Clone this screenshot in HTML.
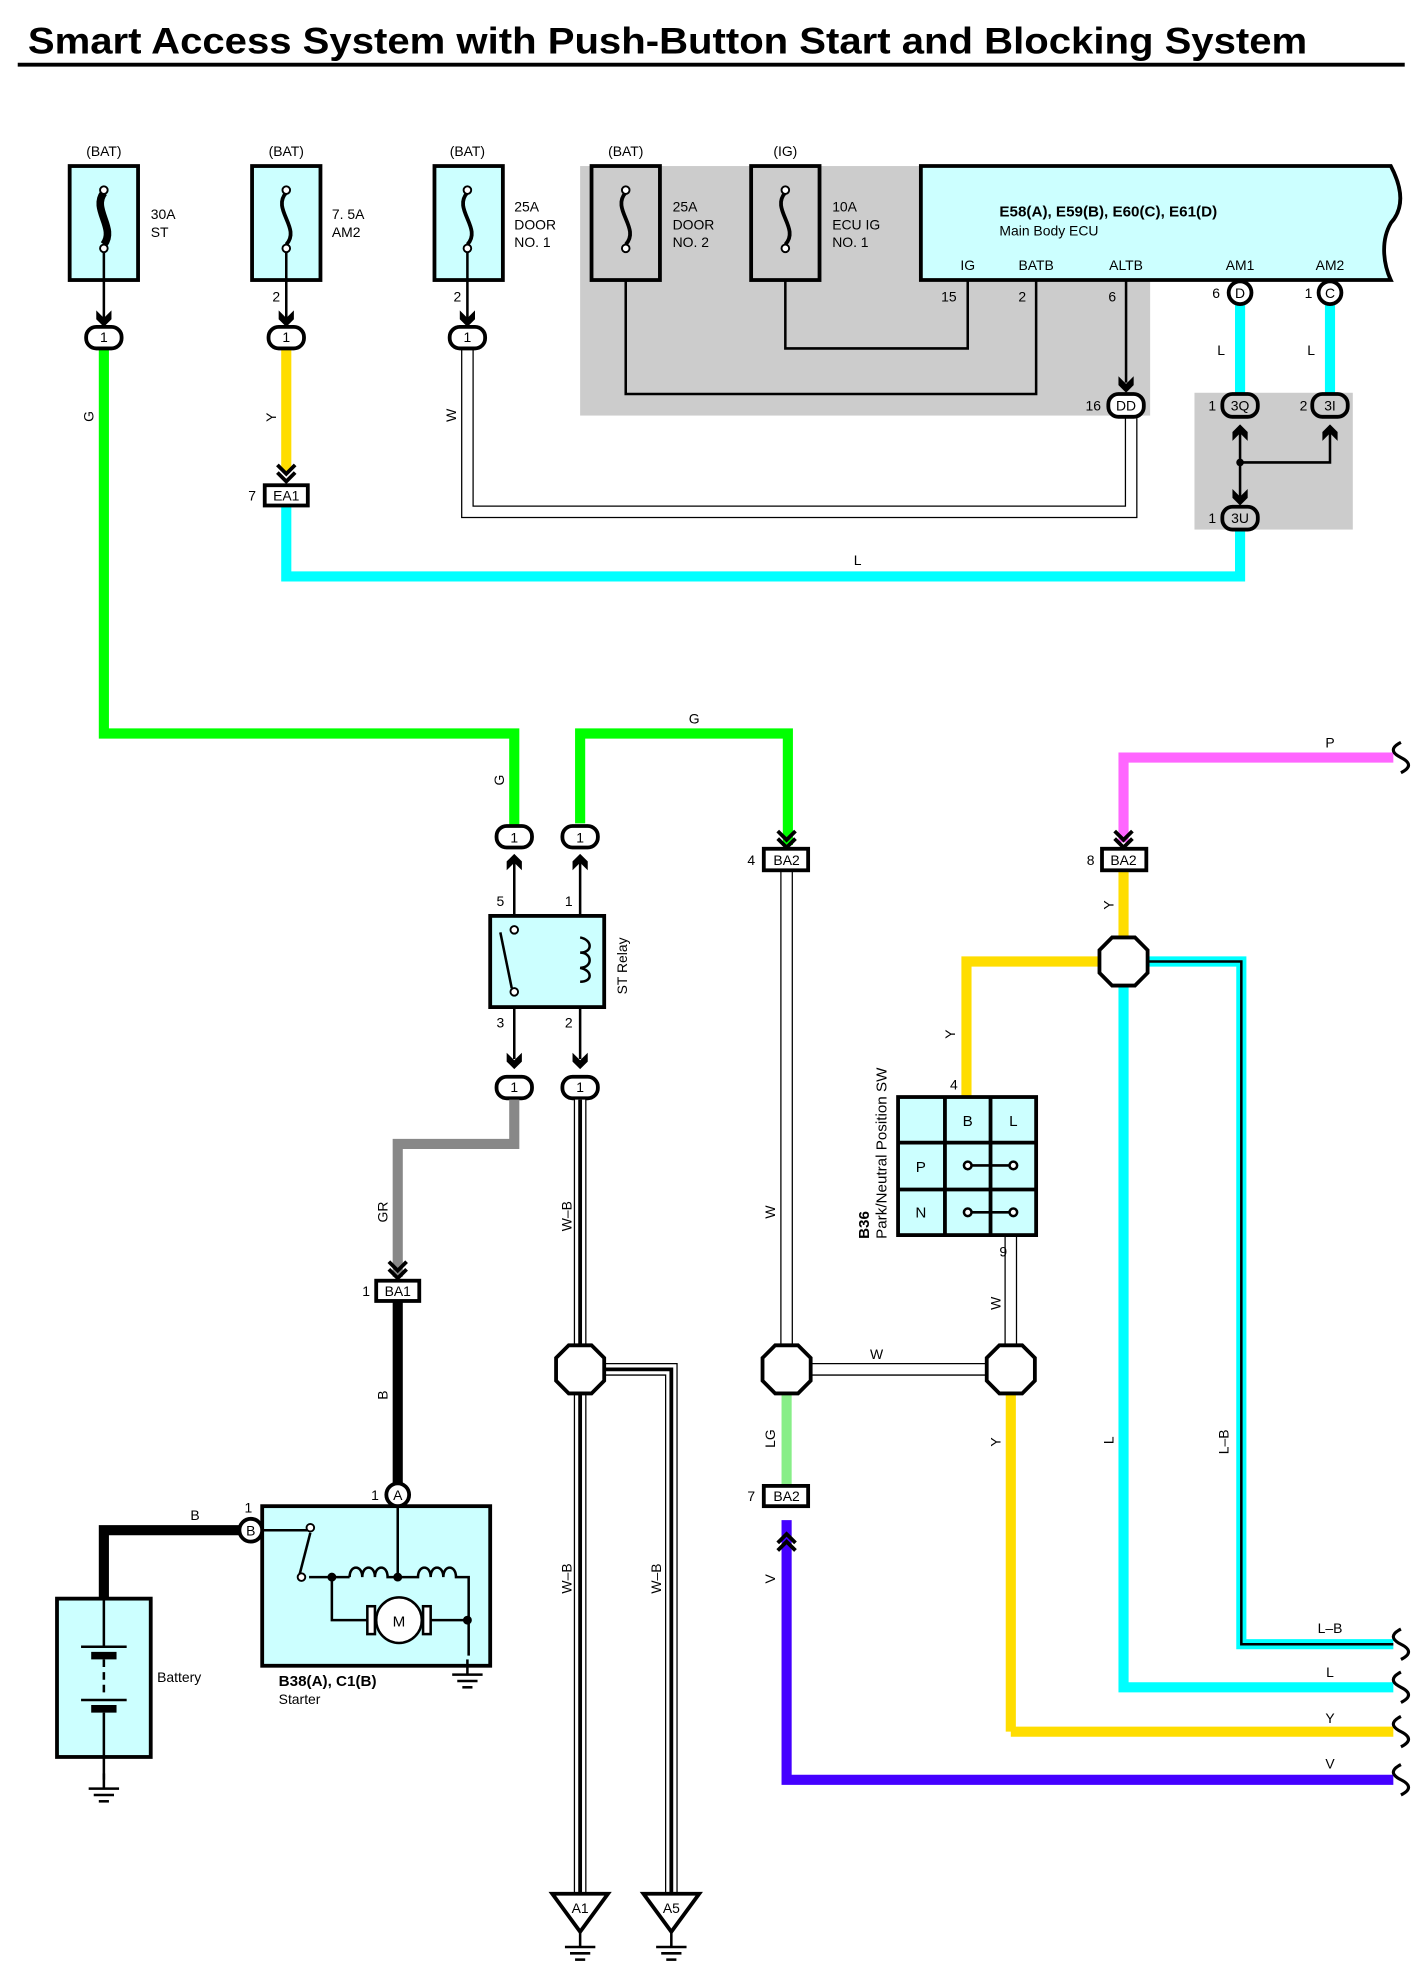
<!DOCTYPE html>
<html><head><meta charset="utf-8"><style>html,body{margin:0;padding:0;background:#fff}svg{display:block}text{font-family:"Liberation Sans",Arial,sans-serif}</style></head>
<body>
<svg width="1425" height="1980" viewBox="0 0 1125 1563" xmlns="http://www.w3.org/2000/svg">
<defs>
<g id="ad"><polygon points="-6,-12 0,-6 6,-12 6,-5 0,1 -6,-5" fill="#000"/></g>
<g id="dd"><polyline points="-7,-14 0,-7 7,-14" fill="none" stroke="#000" stroke-width="3"/><polyline points="-7,-8 0,-1 7,-8" fill="none" stroke="#000" stroke-width="3"/></g>
<g id="gnd"><line x1="0" y1="0" x2="0" y2="12" stroke="#000" stroke-width="2"/><line x1="-12" y1="12" x2="12" y2="12" stroke="#000" stroke-width="2"/><line x1="-8" y1="17" x2="8" y2="17" stroke="#000" stroke-width="2"/><line x1="-4" y1="22" x2="4" y2="22" stroke="#000" stroke-width="2"/></g>
<g id="oct"><polygon points="-9,-19 9,-19 19,-9 19,9 9,19 -9,19 -19,9 -19,-9" fill="#fff" stroke="#000" stroke-width="3"/></g>
</defs>
<rect width="1125" height="1563" fill="#fff"/>
<text x="22" y="42" font-size="29" font-weight="bold" textLength="1010" lengthAdjust="spacingAndGlyphs">Smart Access System with Push-Button Start and Blocking System</text>
<line x1="14" y1="51" x2="1109" y2="51" stroke="#000" stroke-width="3"/>

<rect x="458" y="131" width="450" height="197" fill="#ccc"/>
<rect x="943" y="310" width="125" height="108" fill="#ccc"/>

<g font-size="11" text-anchor="middle">
<text x="82" y="123">(BAT)</text><text x="226" y="123">(BAT)</text><text x="369" y="123">(BAT)</text><text x="494" y="123">(BAT)</text><text x="620" y="123">(IG)</text>
</g>
<g font-size="11">
<text x="119" y="173">30A</text><text x="119" y="187">ST</text>
<text x="262" y="173">7. 5A</text><text x="262" y="187">AM2</text>
<text x="406" y="167">25A</text><text x="406" y="181">DOOR</text><text x="406" y="195">NO. 1</text>
<text x="531" y="167">25A</text><text x="531" y="181">DOOR</text><text x="531" y="195">NO. 2</text>
<text x="657" y="167">10A</text><text x="657" y="181">ECU IG</text><text x="657" y="195">NO. 1</text>
</g>
<g stroke="#000" stroke-width="3">
<rect x="55" y="131" width="54" height="90" fill="#ccffff"/>
<rect x="199" y="131" width="54" height="90" fill="#ccffff"/>
<rect x="343" y="131" width="54" height="90" fill="#ccffff"/>
<rect x="467" y="131" width="54" height="90" fill="#ccc"/>
<rect x="593" y="131" width="54" height="90" fill="#ccc"/>
</g>
<g fill="none" stroke="#000" stroke-width="3">
<path d="M82,152 C72,165 92,180 82,193" stroke-width="6"/>
<path d="M226,152 C214,165 238,180 226,193"/>
<path d="M369,152 C357,165 381,180 369,193"/>
<path d="M494,152 C482,165 506,180 494,193"/>
<path d="M620,152 C608,165 632,180 620,193"/>
</g>
<g fill="#fff" stroke="#000" stroke-width="1.5">
<circle cx="82" cy="150" r="3"/><circle cx="82" cy="196" r="3"/>
<circle cx="226" cy="150" r="3"/><circle cx="226" cy="196" r="3"/>
<circle cx="369" cy="150" r="3"/><circle cx="369" cy="196" r="3"/>
<circle cx="494" cy="150" r="3"/><circle cx="494" cy="196" r="3"/>
<circle cx="620" cy="150" r="3"/><circle cx="620" cy="196" r="3"/>
</g>
<g stroke="#000" stroke-width="2">
<line x1="82" y1="199" x2="82" y2="252"/><line x1="226" y1="199" x2="226" y2="252"/><line x1="369" y1="199" x2="369" y2="252"/>
</g>
<use href="#ad" x="82" y="257"/><use href="#ad" x="226" y="257"/><use href="#ad" x="369" y="257"/>
<g font-size="11"><text x="215" y="238">2</text><text x="358" y="238">2</text></g>

<g fill="none" stroke="#000" stroke-width="2">
<polyline points="620,221 620,275 764,275 764,221"/>
<polyline points="494,221 494,311 818,311 818,221"/>
<line x1="889" y1="221" x2="889" y2="302"/>
</g>
<use href="#ad" x="889" y="309"/>
<g font-size="11"><text x="743" y="238">15</text><text x="804" y="238">2</text><text x="875" y="238">6</text></g>

<path d="M727,131 L1098,131 C1108,150 1108,165 1098,176 C1090,190 1092,208 1098,221 L727,221 Z" fill="#ccffff" stroke="#000" stroke-width="3"/>
<text x="789" y="171" font-size="12" font-weight="bold">E58(A), E59(B), E60(C), E61(D)</text>
<text x="789" y="186" font-size="11">Main Body ECU</text>
<g font-size="11" text-anchor="middle"><text x="764" y="213">IG</text><text x="818" y="213">BATB</text><text x="889" y="213">ALTB</text><text x="979" y="213">AM1</text><text x="1050" y="213">AM2</text></g>

<polyline points="369,275 369,404 893,404 893,330" fill="none" stroke="#000" stroke-width="10"/>
<polyline points="369,275 369,404 893,404 893,330" fill="none" stroke="#fff" stroke-width="8"/>
<text x="360" y="333" font-size="11" transform="rotate(-90 360 333)">W</text>

<polyline points="82,275 82,579 406,579 406,652" fill="none" stroke="#00ff00" stroke-width="8"/>
<text x="74" y="333" font-size="11" transform="rotate(-90 74 333)">G</text>
<text x="398" y="620" font-size="11" transform="rotate(-90 398 620)">G</text>
<line x1="226" y1="275" x2="226" y2="372" stroke="#ffdd00" stroke-width="8"/>
<text x="218" y="333" font-size="11" transform="rotate(-90 218 333)">Y</text>
<use href="#dd" x="226" y="381"/>
<polyline points="226,400 226,455 979,455 979,418" fill="none" stroke="#00ffff" stroke-width="8"/>
<text x="674" y="446" font-size="11">L</text>
<rect x="209" y="383" width="34" height="16" fill="#fff" stroke="#000" stroke-width="3"/>
<text x="226" y="395" font-size="11" text-anchor="middle">EA1</text>
<text x="196" y="395" font-size="11">7</text>

<line x1="979" y1="240" x2="979" y2="312" stroke="#00ffff" stroke-width="8"/>
<line x1="1050" y1="240" x2="1050" y2="312" stroke="#00ffff" stroke-width="8"/>
<g font-size="11"><text x="961" y="280">L</text><text x="1032" y="280">L</text></g>
<g stroke="#000" stroke-width="2" fill="none"><line x1="979" y1="340" x2="979" y2="392"/><polyline points="979,365 1050,365 1050,340"/></g>
<circle cx="979" cy="365" r="3"/>
<use href="#ad" x="979" y="336" transform="rotate(180 979 336)"/>
<use href="#ad" x="1050" y="336" transform="rotate(180 1050 336)"/>
<use href="#ad" x="979" y="398"/>

<g fill="#fff" stroke="#000" stroke-width="3">
<rect x="68" y="258" width="28" height="17" rx="8"/>
<rect x="212" y="258" width="28" height="17" rx="8"/>
<rect x="355" y="258" width="28" height="17" rx="8"/>
<circle cx="979" cy="231" r="9"/>
<circle cx="1050" cy="231" r="9"/>
<rect x="875" y="311" width="28" height="18" rx="8"/>
<rect x="965" y="311" width="28" height="18" rx="8" fill="#ccc"/>
<rect x="1036" y="311" width="28" height="18" rx="8" fill="#ccc"/>
<rect x="965" y="400" width="28" height="18" rx="8" fill="#ccc"/>
<rect x="392" y="652" width="28" height="17" rx="8"/>
<rect x="444" y="652" width="28" height="17" rx="8"/>
<rect x="392" y="850" width="28" height="17" rx="8"/>
<rect x="444" y="850" width="28" height="17" rx="8"/>
</g>
<g font-size="11" text-anchor="middle">
<text x="82" y="270">1</text><text x="226" y="270">1</text><text x="369" y="270">1</text>
<text x="979" y="235">D</text><text x="1050" y="235">C</text>
<text x="889" y="324">DD</text><text x="979" y="324">3Q</text><text x="1050" y="324">3I</text><text x="979" y="413">3U</text>
<text x="406" y="665">1</text><text x="458" y="665">1</text><text x="406" y="862">1</text><text x="458" y="862">1</text>
</g>
<g font-size="11"><text x="957" y="235">6</text><text x="1030" y="235">1</text><text x="857" y="324">16</text><text x="954" y="324">1</text><text x="1026" y="324">2</text><text x="954" y="413">1</text></g>

<polyline points="458,650 458,579 622,579 622,667" fill="none" stroke="#00ff00" stroke-width="8"/>
<text x="548" y="571" font-size="11" text-anchor="middle">G</text>
<use href="#dd" x="621" y="670"/>
<g stroke="#000" stroke-width="2"><line x1="406" y1="680" x2="406" y2="734"/><line x1="458" y1="680" x2="458" y2="740"/><line x1="406" y1="780" x2="406" y2="836"/><line x1="458" y1="775" x2="458" y2="836"/></g>
<use href="#ad" x="406" y="675" transform="rotate(180 406 675)"/>
<use href="#ad" x="458" y="675" transform="rotate(180 458 675)"/>
<use href="#ad" x="406" y="843"/><use href="#ad" x="458" y="843"/>
<rect x="387" y="723" width="90" height="72" fill="#ccffff" stroke="#000" stroke-width="3"/>
<line x1="395" y1="736" x2="404" y2="780" stroke="#000" stroke-width="2"/>
<circle cx="406" cy="734" r="3" fill="#fff" stroke="#000" stroke-width="1.5"/><circle cx="406" cy="783" r="3" fill="#fff" stroke="#000" stroke-width="1.5"/>
<path d="M458,740 C468,742 468,752 458,752 C468,752 468,764 458,764 C468,766 468,775 458,775" fill="none" stroke="#000" stroke-width="2"/>
<text x="495" y="785" font-size="11" transform="rotate(-90 495 785)">ST Relay</text>
<g font-size="11"><text x="392" y="715">5</text><text x="446" y="715">1</text><text x="392" y="811">3</text><text x="446" y="811">2</text></g>

<polyline points="406,868 406,903 314,903 314,1008" fill="none" stroke="#888" stroke-width="8"/>
<text x="306" y="965" font-size="11" transform="rotate(-90 306 965)">GR</text>
<use href="#dd" x="314" y="1010"/>
<line x1="314" y1="1028" x2="314" y2="1172" stroke="#000" stroke-width="8"/>
<text x="306" y="1105" font-size="11" transform="rotate(-90 306 1105)">B</text>
<rect x="297" y="1011" width="34" height="16" fill="#fff" stroke="#000" stroke-width="3"/>
<text x="314" y="1023" font-size="11" text-anchor="middle">BA1</text>
<text x="286" y="1023" font-size="11">1</text>

<polyline points="198,1208 82,1208 82,1262" fill="none" stroke="#000" stroke-width="8"/>
<text x="154" y="1200" font-size="11" text-anchor="middle">B</text>
<rect x="207" y="1189" width="180" height="126" fill="#ccffff" stroke="#000" stroke-width="3"/>
<g fill="none" stroke="#000" stroke-width="2">
<polyline points="206,1208 245,1208"/>
<line x1="245" y1="1210" x2="236" y2="1245"/>
<line x1="314" y1="1190" x2="314" y2="1243"/>
<line x1="244" y1="1245" x2="276" y2="1245"/>
<path d="M276,1245 c0,-10 10,-10 10,0 c0,-10 10,-10 10,0 c0,-10 10,-10 10,0 l24,0 c0,-10 10,-10 10,0 c0,-10 10,-10 10,0 c0,-10 10,-10 10,0 l10,0 l0,62"/>
<polyline points="262,1245 262,1279 290,1279"/>
<line x1="340" y1="1279" x2="369" y2="1279"/>
</g>
<circle cx="245" cy="1206" r="3" fill="#fff" stroke="#000" stroke-width="1.5"/>
<circle cx="238" cy="1245" r="3" fill="#fff" stroke="#000" stroke-width="1.5"/>
<circle cx="262" cy="1245" r="3.5"/><circle cx="314" cy="1245" r="3.5"/><circle cx="369" cy="1279" r="3.5"/>
<rect x="290" y="1268" width="6" height="22" fill="#fff" stroke="#000" stroke-width="2"/>
<rect x="334" y="1268" width="6" height="22" fill="#fff" stroke="#000" stroke-width="2"/>
<circle cx="315" cy="1279" r="18" fill="#fff" stroke="#000" stroke-width="2"/>
<text x="315" y="1284" font-size="12" text-anchor="middle">M</text>
<use href="#gnd" x="369" y="1310"/>
<circle cx="314" cy="1180" r="9" fill="#fff" stroke="#000" stroke-width="3"/>
<text x="314" y="1184" font-size="11" text-anchor="middle">A</text>
<text x="293" y="1184" font-size="11">1</text>
<circle cx="198" cy="1208" r="9" fill="#fff" stroke="#000" stroke-width="3"/>
<text x="198" y="1212" font-size="11" text-anchor="middle">B</text>
<text x="193" y="1194" font-size="11">1</text>
<text x="220" y="1331" font-size="12" font-weight="bold">B38(A), C1(B)</text>
<text x="220" y="1345" font-size="11">Starter</text>

<rect x="45" y="1262" width="74" height="125" fill="#ccffff" stroke="#000" stroke-width="3"/>
<g stroke="#000"><line x1="82" y1="1262" x2="82" y2="1300" stroke-width="2"/><line x1="64" y1="1300" x2="100" y2="1300" stroke-width="2"/><line x1="72" y1="1307" x2="92" y2="1307" stroke-width="6"/><line x1="82" y1="1310" x2="82" y2="1340" stroke-width="2" stroke-dasharray="6,4"/><line x1="64" y1="1342" x2="100" y2="1342" stroke-width="2"/><line x1="72" y1="1349" x2="92" y2="1349" stroke-width="6"/><line x1="82" y1="1352" x2="82" y2="1405" stroke-width="2"/></g>
<use href="#gnd" x="82" y="1400"/>
<text x="124" y="1328" font-size="11">Battery</text>

<g fill="none">
<polyline points="458,868 458,1495" stroke="#000" stroke-width="10"/>
<polyline points="458,868 458,1495" stroke="#fff" stroke-width="8"/>
<polyline points="458,868 458,1495" stroke="#000" stroke-width="3"/>
<polyline points="470,1081 530,1081 530,1495" stroke="#000" stroke-width="10"/>
<polyline points="470,1081 530,1081 530,1495" stroke="#fff" stroke-width="8"/>
<polyline points="470,1081 530,1081 530,1495" stroke="#000" stroke-width="3"/>
</g>
<text x="451" y="972" font-size="11" transform="rotate(-90 451 972)">W–B</text>
<text x="451" y="1258" font-size="11" transform="rotate(-90 451 1258)">W–B</text>
<text x="522" y="1258" font-size="11" transform="rotate(-90 522 1258)">W–B</text>
<use href="#oct" x="458" y="1081"/>
<polygon points="436,1495 480,1495 458,1525" fill="#fff" stroke="#000" stroke-width="3"/>
<polygon points="508,1495 552,1495 530,1525" fill="#fff" stroke="#000" stroke-width="3"/>
<text x="458" y="1510" font-size="11" text-anchor="middle">A1</text>
<text x="530" y="1510" font-size="11" text-anchor="middle">A5</text>
<use href="#gnd" x="458" y="1525"/><use href="#gnd" x="530" y="1525"/>

<g fill="none">
<polyline points="621,688 621,1081 798,1081 798,975" stroke="#000" stroke-width="10"/>
<polyline points="621,688 621,1081 798,1081 798,975" stroke="#fff" stroke-width="8"/>
</g>
<text x="612" y="962" font-size="11" transform="rotate(-90 612 962)">W</text>
<text x="692" y="1073" font-size="11" text-anchor="middle">W</text>
<text x="790" y="1034" font-size="11" transform="rotate(-90 790 1034)">W</text>
<text x="789" y="992" font-size="11">9</text>
<rect x="603" y="670" width="35" height="17" fill="#fff" stroke="#000" stroke-width="3"/>
<text x="621" y="683" font-size="11" text-anchor="middle">BA2</text>
<text x="590" y="683" font-size="11">4</text>

<line x1="621" y1="1100" x2="621" y2="1172" stroke="#88ee88" stroke-width="8"/>
<text x="612" y="1143" font-size="11" transform="rotate(-90 612 1143)">LG</text>
<polyline points="621,1200 621,1405 1100,1405" fill="none" stroke="#4400ff" stroke-width="8"/>
<text x="612" y="1250" font-size="11" transform="rotate(-90 612 1250)">V</text>
<text x="1050" y="1396" font-size="11" text-anchor="middle">V</text>
<rect x="603" y="1173" width="35" height="16" fill="#fff" stroke="#000" stroke-width="3"/>
<text x="621" y="1185" font-size="11" text-anchor="middle">BA2</text>
<text x="590" y="1185" font-size="11">7</text>
<use href="#dd" x="621" y="1190" transform="rotate(180 621 1200)"/>

<polyline points="1100,598 887,598 887,665" fill="none" stroke="#ff66ff" stroke-width="8"/>
<text x="1050" y="590" font-size="11" text-anchor="middle">P</text>
<use href="#dd" x="887" y="670"/>
<line x1="887" y1="688" x2="887" y2="742" stroke="#ffdd00" stroke-width="8"/>
<text x="879" y="718" font-size="11" transform="rotate(-90 879 718)">Y</text>
<rect x="870" y="670" width="35" height="17" fill="#fff" stroke="#000" stroke-width="3"/>
<text x="887" y="683" font-size="11" text-anchor="middle">BA2</text>
<text x="858" y="683" font-size="11">8</text>
<polyline points="870,759 763,759 763,866" fill="none" stroke="#ffdd00" stroke-width="8"/>
<text x="754" y="820" font-size="11" transform="rotate(-90 754 820)">Y</text>
<text x="750" y="860" font-size="11">4</text>
<polyline points="887,778 887,1332 1100,1332" fill="none" stroke="#00ffff" stroke-width="8"/>
<text x="879" y="1140" font-size="11" transform="rotate(-90 879 1140)">L</text>
<text x="1050" y="1324" font-size="11" text-anchor="middle">L</text>
<polyline points="905,759 980,759 980,1298 1100,1298" fill="none" stroke="#00ffff" stroke-width="8"/>
<polyline points="905,759 980,759 980,1298 1100,1298" fill="none" stroke="#000" stroke-width="2"/>
<text x="970" y="1148" font-size="11" transform="rotate(-90 970 1148)">L–B</text>
<text x="1050" y="1289" font-size="11" text-anchor="middle">L–B</text>
<line x1="798" y1="1100" x2="798" y2="1367" stroke="#ffdd00" stroke-width="8"/>
<polyline points="798,1367 1100,1367" fill="none" stroke="#ffdd00" stroke-width="8"/>
<text x="790" y="1142" font-size="11" transform="rotate(-90 790 1142)">Y</text>
<text x="1050" y="1360" font-size="11" text-anchor="middle">Y</text>
<g fill="none" stroke="#000" stroke-width="2.5">
<path d="M1106,1286 c-8,4 -8,8 0,12 c8,4 8,8 0,12"/>
<path d="M1106,1320 c-8,4 -8,8 0,12 c8,4 8,8 0,12"/>
<path d="M1106,1355 c-8,4 -8,8 0,12 c8,4 8,8 0,12"/>
<path d="M1106,1393 c-8,4 -8,8 0,12 c8,4 8,8 0,12"/>
<path d="M1106,586 c-8,4 -8,8 0,12 c8,4 8,8 0,12"/>
</g>
<use href="#oct" x="887" y="759"/>
<use href="#oct" x="621" y="1081"/>
<use href="#oct" x="798" y="1081"/>

<g stroke="#000" stroke-width="3" fill="#ccffff">
<rect x="709" y="866" width="109" height="109"/>
<line x1="746" y1="866" x2="746" y2="975"/><line x1="782" y1="866" x2="782" y2="975"/>
<line x1="709" y1="902" x2="818" y2="902"/><line x1="709" y1="939" x2="818" y2="939"/>
</g>
<g stroke="#000" stroke-width="2"><line x1="764" y1="920" x2="800" y2="920"/><line x1="764" y1="957" x2="800" y2="957"/></g>
<g fill="#fff" stroke="#000" stroke-width="2"><circle cx="764" cy="920" r="3"/><circle cx="800" cy="920" r="3"/><circle cx="764" cy="957" r="3"/><circle cx="800" cy="957" r="3"/></g>
<g font-size="12" text-anchor="middle"><text x="764" y="889">B</text><text x="800" y="889">L</text><text x="727" y="925">P</text><text x="727" y="961">N</text></g>
<text x="686" y="978" font-size="12" font-weight="bold" transform="rotate(-90 686 978)">B36</text>
<text x="700" y="978" font-size="12" transform="rotate(-90 700 978)">Park/Neutral Position SW</text>
</svg>
</body></html>
